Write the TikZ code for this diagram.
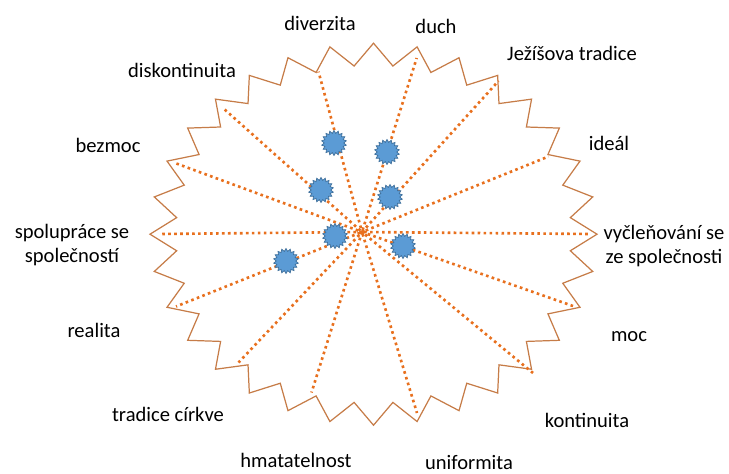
\documentclass[tikz,border=0pt]{standalone}
\usepackage{fontspec}
\setmainfont{Carlito}
\usetikzlibrary{shapes.geometric}
\definecolor{rimbrown}{RGB}{198,124,72}
\definecolor{spokeorange}{RGB}{232,112,30}
\definecolor{burstblue}{RGB}{91,155,213}
\definecolor{burstedge}{RGB}{65,113,156}
\tikzset{
  rim/.style={
    draw=rimbrown,
    line width=0.7pt,
    line join=miter
  },
  spoke/.style={
    draw=spokeorange,
    line width=1.5pt,
    dash pattern=on 1.5pt off 1.9pt
  },
  burst/.style={
    shape=star,
    star points=18,
    star point ratio=1.28,
    minimum size=0.5cm,
    inner sep=0pt,
    fill=burstblue,
    draw=burstedge,
    line width=0.4pt
  },
  tag/.style={
    font=\fontsize{11.7}{14.2}\selectfont,
    align=center,
    inner sep=0pt
  }
}

\begin{document}
\begin{tikzpicture}[x=0.02cm,y=-0.02cm]
  \useasboundingbox (0,0) rectangle (729,473);
  % the 32-point rim
  \begin{scope}[shift={(373.5,234.2)}]
    \draw[rim] (0:223.5 and 191)
      \foreach \k in {0,...,30} {
        -- ({\k*11.25+5.625}:197.8 and 169) -- ({(\k+1)*11.25}:223.5 and 191)
      }
      -- (354.375:197.8 and 169) -- cycle;
  \end{scope}
  % hub and spoke ends
  \coordinate (hub) at (362,232);
  \coordinate (diverzitaend) at (318.5,71.7);
  \coordinate (duchend) at (416.7,58);
  \coordinate (jezisend) at (498.5,81);
  \coordinate (idealend) at (548.5,156.5);
  \coordinate (vyclenend) at (590,234);
  \coordinate (mocend) at (573,306);
  \coordinate (kontinend) at (533,373);
  \coordinate (uniformend) at (417,413);
  \coordinate (hmatend) at (311.5,392.5);
  \coordinate (tradiceend) at (238.5,362.5);
  \coordinate (realitaend) at (176,306.5);
  \coordinate (spolupend) at (160,234);
  \coordinate (bezmocend) at (175,163);
  \coordinate (diskontend) at (223.5,108.5);
  \foreach \e [count=\i] in {diverzitaend,duchend,jezisend,idealend,vyclenend,mocend,kontinend,
                  uniformend,hmatend,tradiceend,realitaend,spolupend,bezmocend,diskontend}
    \draw[spoke, dash phase={mod(\i,3)*1.1pt}] (hub) -- (\e);
  % blue bursts
  \node[burst] (b1) at (334,143) {};
  \node[burst] (b2) at (387,152) {};
  \node[burst] (b3) at (321,190) {};
  \node[burst] (b4) at (390,197) {};
  \node[burst] (b5) at (335,236) {};
  \node[burst] (b6) at (403,246) {};
  \node[burst] (b7) at (286,261) {};
  % labels
  \node[tag] (diverzita) at (320,23) {diverzita};
  \node[tag] (duch) at (436,26) {duch};
  \node[tag] (jezis) at (572,53) {Ježíšova tradice};
  \node[tag] (ideal) at (609,143) {ideál};
  \node[tag] (vyclen) at (664,246) {vyčleňování se\\ze společnosti};
  \node[tag] (moc) at (629,337) {moc};
  \node[tag] (kontin) at (587,420) {kontinuita};
  \node[tag] (uniform) at (469,462) {uniformita};
  \node[tag] (hmat) at (296,460) {hmatatelnost};
  \node[tag] (tradice) at (168,414) {tradice církve};
  \node[tag] (realita) at (94,330) {realita};
  \node[tag] (spolup) at (72,245) {spolupráce se\\společností};
  \node[tag] (bezmoc) at (108,145) {bezmoc};
  \node[tag] (diskont) at (182,70) {diskontinuita};
\end{tikzpicture}
\end{document}
